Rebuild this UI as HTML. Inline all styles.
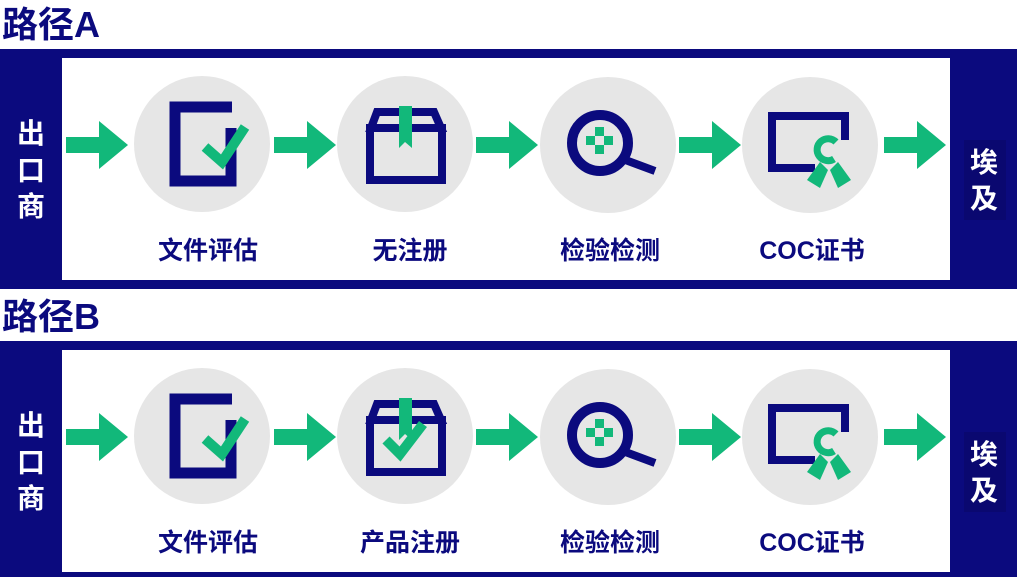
<!DOCTYPE html>
<html><head><meta charset="utf-8"><style>
html,body{margin:0;padding:0;background:#fff;}
svg{display:block;}
text{font-family:"Liberation Sans","Noto Sans CJK SC",sans-serif;font-weight:bold;}
</style></head><body>
<svg width="1017" height="577" viewBox="0 0 1017 577" xmlns="http://www.w3.org/2000/svg">
<defs>
<g id="arrow"><polygon points="0,-8 33,-8 33,-24 62,0 33,24 33,8 0,8" fill="#12b87a"/></g>
<g id="row">
  <rect x="0" y="49" width="1017" height="240" fill="#0b0a7e"/>
  <rect x="62" y="58" width="888" height="222" fill="#fff"/>
  <text x="31" y="143" font-size="28" fill="#fff" text-anchor="middle">出</text>
  <text x="31" y="180" font-size="28" fill="#fff" text-anchor="middle">口</text>
  <text x="31" y="216" font-size="28" fill="#fff" text-anchor="middle">商</text>
  <rect x="964" y="140" width="42" height="80" fill="#0a0870"/>
  <text x="984" y="172" font-size="28" fill="#fff" text-anchor="middle">埃</text>
  <text x="984" y="208" font-size="28" fill="#fff" text-anchor="middle">及</text>
  <use href="#arrow" x="66" y="145"/>
  <use href="#arrow" x="274" y="145"/>
  <use href="#arrow" x="476" y="145"/>
  <use href="#arrow" x="679" y="145"/>
  <use href="#arrow" x="884" y="145"/>
  <circle cx="202" cy="144" r="68" fill="#e6e6e6"/>
  <circle cx="405" cy="144" r="68" fill="#e6e6e6"/>
  <circle cx="608" cy="145" r="68" fill="#e6e6e6"/>
  <circle cx="810" cy="145" r="68" fill="#e6e6e6"/>
  <path d="M231,128 V181 H175 V107 H232" fill="none" stroke="#0b0a7e" stroke-width="11"/>
  <polyline points="205,147 222,162 245,127" fill="none" stroke="#12b87a" stroke-width="10"/>
  <circle cx="600" cy="143" r="28" fill="none" stroke="#0b0a7e" stroke-width="10"/>
  <line x1="620" y1="158" x2="655" y2="171" stroke="#0b0a7e" stroke-width="8"/>
  <g fill="#12b87a"><rect x="595" y="127" width="9" height="9"/><rect x="586" y="136" width="9" height="9"/><rect x="604" y="136" width="9" height="9"/><rect x="595" y="145" width="9" height="9"/></g>
  <path d="M845,140 V116 H772 V168 H815" fill="none" stroke="#0b0a7e" stroke-width="8"/>
  <path d="M836,142 A11,11 0 1 0 834,159" fill="none" stroke="#12b87a" stroke-width="7"/>
  <polygon points="820,162 828,170 820,188 807,180" fill="#12b87a"/>
  <polygon points="838,162 830,170 838,188 851,180" fill="#12b87a"/>
  <text x="208" y="259" font-size="25" fill="#0b0a7e" text-anchor="middle">文件评估</text>
  <text x="610" y="259" font-size="25" fill="#0b0a7e" text-anchor="middle">检验检测</text>
  <text x="812" y="259" font-size="25" fill="#0b0a7e" text-anchor="middle">COC证书</text>
</g>
<g id="box">
  <path d="M371,128 L377,112 H434 L441,128 Z" fill="none" stroke="#0b0a7e" stroke-width="8"/>
  <rect x="370" y="128" width="72" height="52" fill="none" stroke="#0b0a7e" stroke-width="8"/>
  <polygon points="399,106 412,106 412,148 405,142 399,148" fill="#12b87a"/>
</g>
</defs>
<text x="2" y="37" font-size="36" fill="#0b0a7e">路径A</text>
<use href="#row"/>
<use href="#box"/>
<text x="410" y="259" font-size="25" fill="#0b0a7e" text-anchor="middle">无注册</text>
<text x="2" y="329" font-size="36" fill="#0b0a7e">路径B</text>
<g transform="translate(0,292)">
  <use href="#row"/>
  <use href="#box"/>
  <polyline points="386,148 400,162 423,132" fill="none" stroke="#12b87a" stroke-width="10"/>
  <text x="410" y="259" font-size="25" fill="#0b0a7e" text-anchor="middle">产品注册</text>
</g>
</svg>
</body></html>
